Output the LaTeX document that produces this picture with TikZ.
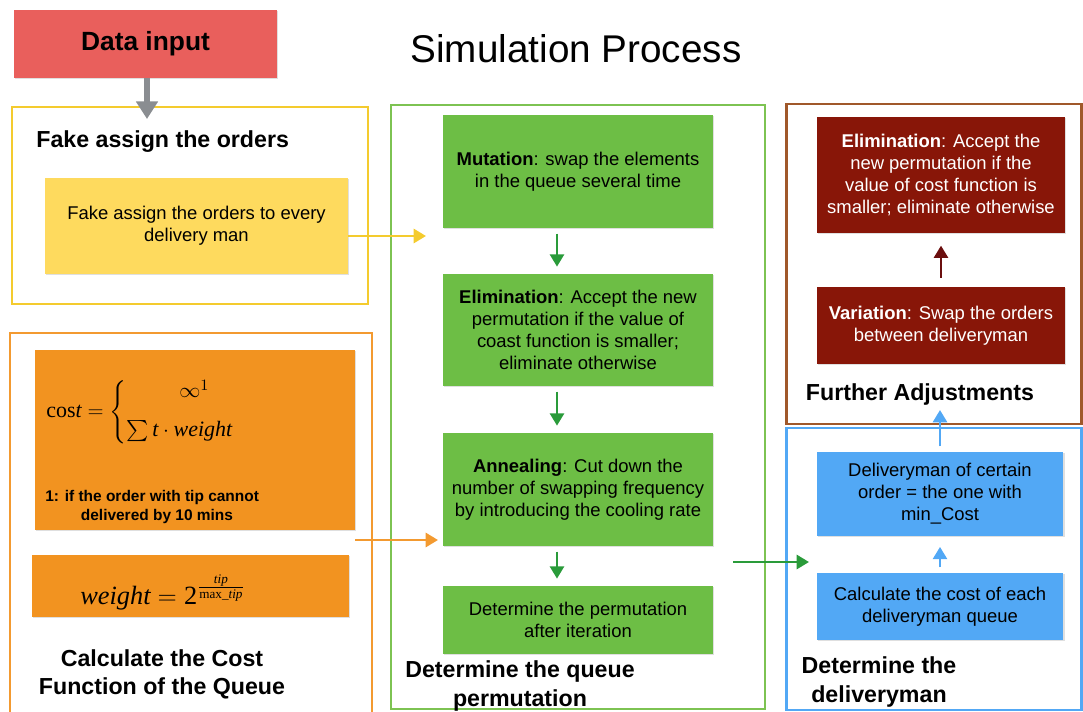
\documentclass[tikz,border=0pt]{standalone}
\usepackage{fontspec}
\setmainfont{Liberation Sans}
\newfontfamily\timesfont{Liberation Serif}
\usepackage{amsmath}
\usepackage{xcolor}
\usetikzlibrary{positioning, arrows.meta, shadows}

\definecolor{inred}{HTML}{E95F5C}
\definecolor{yframe}{HTML}{F4CB2E}
\definecolor{yfill}{HTML}{FEDA5E}
\definecolor{gframe}{HTML}{7DC352}
\definecolor{gfill}{HTML}{6DBE45}
\definecolor{garrow}{HTML}{2A9B3A}
\definecolor{oframe}{HTML}{F39A30}
\definecolor{ofill}{HTML}{F29320}
\definecolor{bframe}{HTML}{A0582A}
\definecolor{rfill}{HTML}{881608}
\definecolor{rarrow}{HTML}{6B0F0F}
\definecolor{bluec}{HTML}{52A8F5}
\definecolor{grayarrow}{HTML}{8A8D91}

\tikzset{
    frame/.style={draw, line width=1.2pt, rectangle, inner sep=0pt},
    box/.style={rectangle, align=center, inner sep=2pt, font=\fontsize{10.5}{12.5}\selectfont,
        drop shadow={shadow xshift=0.6pt, shadow yshift=-0.8pt, opacity=0.25}},
    heading/.style={font=\fontsize{13.2}{16}\selectfont\bfseries, align=center, inner sep=0pt},
    link/.style={line width=1.5pt, -{Triangle[length=7pt, width=8pt]}, shorten <=3pt, shorten >=4pt},
}

\begin{document}
\begin{tikzpicture}[x=0.02cm, y=-0.02cm]
    \useasboundingbox (0,0) rectangle (1083,711);
    % title and input
    \node[font=\fontsize{22}{25}\selectfont] (title) at (576,49) {Simulation Process};
    \node[box, fill=inred, minimum width=5.26cm, minimum height=1.36cm,
        font=\fontsize{15}{18}\selectfont\bfseries] (data) at (145.5,44) {Data input};
    % frames
    \node[frame, draw=yframe, minimum width=7.12cm, minimum height=3.94cm] (fakeframe) at (190,205.5) {};
    \node[frame, draw=gframe, minimum width=7.48cm, minimum height=12.08cm] (queueframe) at (578,407) {};
    \node[frame, draw=oframe, minimum width=7.24cm, minimum height=7.6cm] (costframe) at (191,523) {};
    \node[frame, draw=bframe, minimum width=5.9cm, minimum height=6.4cm] (adjframe) at (1082.5,264) [anchor=east] {};
    \node[frame, draw=bluec, minimum width=5.9cm, minimum height=5.64cm] (manframe) at (1082.5,569) [anchor=east] {};
    % fake assign
    \node[heading, anchor=west] (fakehead) at (36,142) {Fake assign the orders};
    \node[box, fill=yfill, minimum width=6.06cm, minimum height=1.92cm] (fakebox) at (196.5,226)
        {Fake assign the orders to every\\delivery man};
    % queue permutation
    \coordinate (gcol) at (557,0);
    \node[box, fill=gfill, minimum width=5.4cm, minimum height=2.26cm] (mutate) at (578,171.5)
        {\textbf{Mutation}: swap the elements\\in the queue several time};
    \node[box, fill=gfill, minimum width=5.4cm, minimum height=2.24cm] (elimq) at (578,330)
        {\textbf{Elimination}: Accept the new\\permutation if the value of\\coast function is smaller;\\eliminate otherwise};
    \node[box, fill=gfill, minimum width=5.4cm, minimum height=2.26cm] (anneal) at (578,489.5)
        {\textbf{Annealing}: Cut down the\\number of swapping frequency\\by introducing the cooling rate};
    \node[box, fill=gfill, minimum width=5.4cm, minimum height=1.36cm] (perm) at (578,620)
        {Determine the permutation\\after iteration};
    \node[heading] (queuehead) at (520,686) {Determine the queue\\permutation};
    % cost function
    \node[box, fill=ofill, minimum width=6.4cm, minimum height=3.6cm] (costbox) at (195,440) {};
    \node[anchor=west, inner sep=0pt, font=\fontsize{12.5}{14}\timesfont] (costeq) at (46,412)
        {cos\textit{t} $= \left\{\begin{array}{@{}l}\hspace{2.4em}\infty^{1}\\[8pt] \sum\textit{t}\cdot\textit{weight}\end{array}\right.$};
    \node[anchor=west, align=left, inner sep=0pt, font=\fontsize{8.8}{10.5}\selectfont\bfseries] (costnote) at (45,507)
        {1: if the order with tip cannot\\\hspace{2.3em}delivered by 10 mins};
    \node[box, fill=ofill, minimum width=6.34cm, minimum height=1.24cm] (weightbox) at (190.5,586) {};
    \node[anchor=west, inner sep=0pt, font=\fontsize{15}{17}\timesfont] (weighteq) at (80,592)
        {\textit{weight} $= \text{2}^{\frac{\textit{tip}}{\text{max\_}\textit{tip}}}$};
    \node[heading] (costhead) at (162,674) {Calculate the Cost\\Function of the Queue};
    % further adjustments
    \node[box, fill=rfill, text=white, minimum width=4.96cm, minimum height=2.32cm] (elimd) at (941,175)
        {\textbf{Elimination}: Accept the\\new permutation if the\\value of cost function is\\smaller; eliminate otherwise};
    \node[box, fill=rfill, text=white, minimum width=4.96cm, minimum height=1.54cm] (vary) at (941,325.5)
        {\textbf{Variation}: Swap the orders\\between deliveryman};
    \node[heading] (adjhead) at (920,394) {Further Adjustments};
    % deliveryman
    \node[box, fill=bluec, minimum width=4.94cm, minimum height=1.68cm] (minbox) at (940,494)
        {Deliveryman of certain\\order = the one with\\min\_Cost};
    \node[box, fill=bluec, minimum width=4.94cm, minimum height=1.34cm] (calcbox) at (940,606.5)
        {Calculate the cost of each\\deliveryman queue};
    \node[heading] (manhead) at (879,682) {Determine the\\deliveryman};
    % connectors
    \coordinate (datatip) at (147,119);
    \coordinate (yin) at (426,236);
    \coordinate (oin) at (438,540);
    \coordinate (gout) at (733,562);
    \coordinate (gin) at (809,562);
    \coordinate (bup) at (940,410);
    \draw[draw=grayarrow, line width=3pt, -{Triangle[length=10pt, width=12pt]}] (data.south -| datatip) -- (datatip);
    \draw[link, draw=yframe, shorten <=0pt, shorten >=0pt] (fakebox.east |- yin) -- (yin);
    \draw[link, draw=oframe, shorten <=0pt, shorten >=0pt] (costbox.east |- oin) -- (oin);
    \draw[link, draw=garrow, shorten <=0pt, shorten >=0pt] (gout) -- (gin);
    \draw[link, draw=garrow] (mutate.south -| gcol) -- (elimq.north -| gcol);
    \draw[link, draw=garrow] (elimq.south -| gcol) -- (anneal.north -| gcol);
    \draw[link, draw=garrow] (anneal.south -| gcol) -- (perm.north -| gcol);
    \draw[link, draw=rarrow, shorten <=5pt, shorten >=7pt] (vary) -- (elimd);
    \draw[link, draw=bluec, shorten >=6pt] (calcbox) -- (minbox);
    \draw[link, draw=bluec, shorten >=0pt] (minbox.north) -- (minbox.north |- bup);
\end{tikzpicture}
\end{document}
